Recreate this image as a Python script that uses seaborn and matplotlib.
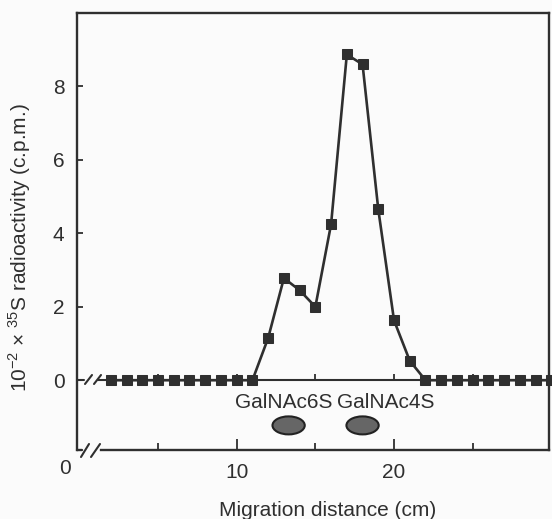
import matplotlib
matplotlib.use("Agg")
import matplotlib.pyplot as plt
from matplotlib.patches import Ellipse
import seaborn as sns
import pandas as pd

# ---- data ----
distance_cm = list(range(2, 31))
radioactivity = [0, 0, 0, 0, 0, 0, 0, 0, 0, 0,
                 1.15, 2.78, 2.45, 2.0, 4.25, 8.87, 8.6, 4.65, 1.63, 0.53,
                 0, 0, 0, 0, 0, 0, 0, 0, 0]
standards = ["GalNAc6S", "GalNAc4S"]
standard_spot_x = [13.3, 18.0]
yticks = [0, 2, 4, 6, 8]
xticks_major = [10, 20]
xticks_minor = [5, 15, 25]

df = pd.DataFrame({"distance": distance_cm, "cpm": radioactivity})

sns.set_style("ticks")
plt.rcParams["font.family"] = ["Liberation Sans", "DejaVu Sans"]
plt.rcParams["mathtext.fontset"] = "custom"
plt.rcParams["mathtext.rm"] = "Liberation Sans"

ink = "#2f2f2f"
fig = plt.figure(figsize=(5.52, 5.19), dpi=100, facecolor="#fbfbfb")
ax = fig.add_axes([77 / 552, 69 / 519, 472 / 552, 437 / 519])
ax.set_facecolor("#fbfbfb")

sns.lineplot(data=df, x="distance", y="cpm", ax=ax, color=ink, lw=1.9,
             marker="s", markersize=7, markeredgecolor=ink,
             markerfacecolor=ink, clip_on=False, zorder=5)

ax.set_xlim(-0.15, 29.85)
ax.set_ylim(-1.9, 10.0)

for s in ax.spines.values():
    s.set_color(ink)
    s.set_linewidth(1.7)
ax.spines["bottom"].set_bounds(1.35, 29.85)

ax.set_yticks(yticks)
ax.set_yticklabels([str(v) for v in yticks])
ax.set_xticks(xticks_major)
ax.set_xticklabels([str(v) for v in xticks_major])
ax.set_xticks(xticks_minor, minor=True)
ax.tick_params(axis="y", direction="in", length=4, width=1.3, colors=ink,
               labelsize=15, pad=9)
ax.tick_params(axis="x", which="major", direction="in", length=8, width=1.3,
               colors=ink, labelsize=15, pad=9)
ax.tick_params(axis="x", which="minor", direction="in", length=5, width=1.3,
               colors=ink)

# "0" label left of the axis break
ax.text(-0.93, -(469 - 450) / 437, "0", transform=ax.get_xaxis_transform(),
        ha="center", va="center", fontsize=15, color=ink, clip_on=False)

# baseline (y = 0) with break
xt = ax.get_yaxis_transform()
ax.plot([0, 7 / 472], [0, 0], color=ink, lw=1.5, transform=xt, clip_on=False)
ax.plot([21 / 472, 1], [0, 0], color=ink, lw=1.5, transform=xt, clip_on=False)
ax.vlines(xticks_minor + xticks_major, 0, 0.16, color=ink, lw=1.3)

# break marks
def px(xp, yp):
    # convert figure pixel (from top-left) to axes fraction
    return (xp - 77) / 472, (450 - yp) / 437
for x0, y0, x1, y1 in [(85, 384, 92, 375), (94, 384, 101, 375),
                       (81, 457, 89, 444), (91, 457, 100, 444)]:
    a = px(x0, y0); b = px(x1, y1)
    ax.plot([a[0], b[0]], [a[1], b[1]], color=ink, lw=1.5,
            transform=ax.transAxes, clip_on=False)
a = px(77, 450); b = px(82, 450)
ax.plot([a[0], b[0]], [a[1], b[1]], color=ink, lw=1.7,
        transform=ax.transAxes, clip_on=False)

# standards
label_x = [12.96, 19.5]
for name, sx, lx in zip(standards, standard_spot_x, label_x):
    ax.text(lx, -0.6, name, ha="center", va="center", fontsize=15, color=ink)
    ax.add_patch(Ellipse((sx, -1.23), 2.05, 0.49, facecolor="#666666",
                         edgecolor="#222222", lw=1.5))

ax.set_xlabel("Migration distance (cm)", fontsize=15, color=ink)
ax.set_ylabel(r"10$^{-2}$ $\times$ $^{35}$S radioactivity (c.p.m.)",
              fontsize=15, color=ink)
ax.yaxis.set_label_coords(-57 / 472, (450 - 248) / 437)
ax.xaxis.set_label_coords((328 - 77) / 472, -(510 - 450) / 437)
ax.xaxis.label.set_va("center")
ax.yaxis.label.set_va("center")

fig.savefig("out.png", dpi=100, facecolor=fig.get_facecolor())
